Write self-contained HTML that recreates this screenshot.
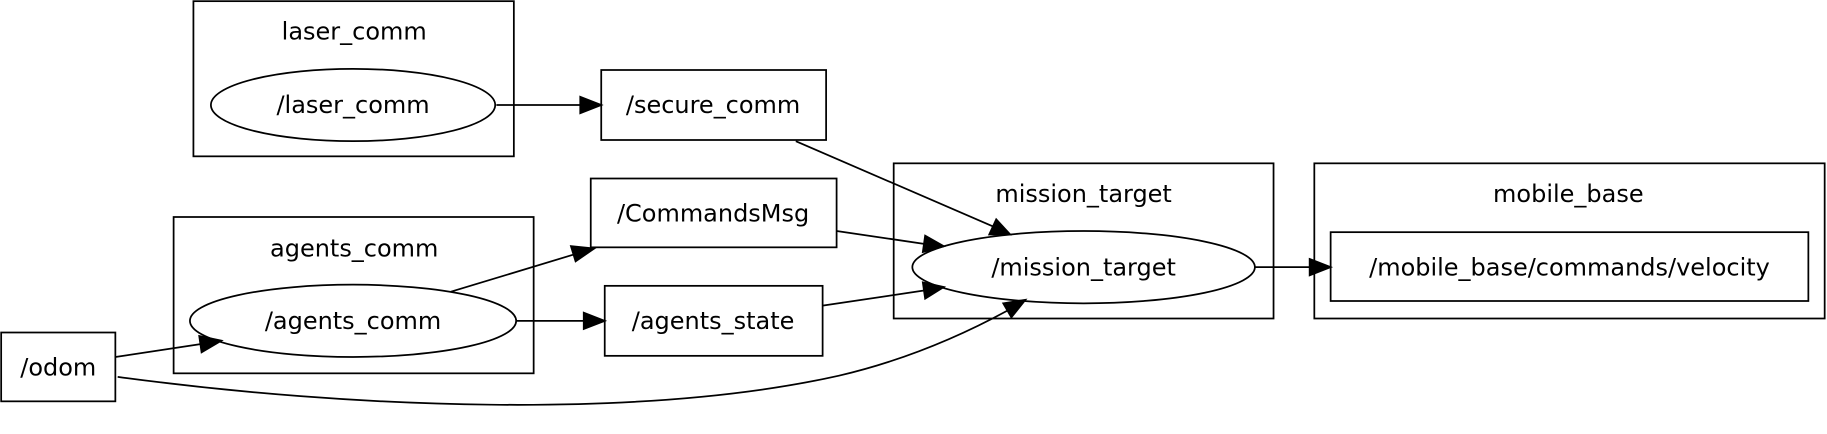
<!DOCTYPE html>
<html><head><meta charset="utf-8"><style>html,body{margin:0;padding:0;background:#fff}svg{display:block}</style></head>
<body>
<svg width="1827" height="434" viewBox="0 0 1568 372" preserveAspectRatio="none" xmlns="http://www.w3.org/2000/svg" font-family="DejaVu Sans, Liberation Sans, sans-serif" font-size="20.6" text-anchor="middle">
<style>.s{fill:none;stroke:#000;stroke-width:1.5}</style>
<g class="s">
<rect x="166" y="1" width="275" height="133"/>
<rect x="767" y="140" width="326" height="133"/>
<rect x="1128" y="140" width="438" height="133"/>
<rect x="149" y="186" width="309" height="134"/>
<rect x="516" y="60" width="193" height="60"/>
<rect x="507" y="153" width="211" height="59"/>
<rect x="519" y="245" width="187" height="60"/>
<rect x="1" y="285" width="98" height="59"/>
<rect x="1142" y="199" width="410" height="59"/>
<ellipse cx="303" cy="90" rx="122" ry="31"/>
<ellipse cx="930" cy="229" rx="147" ry="31"/>
<ellipse cx="303" cy="275" rx="140" ry="31"/>
</g>
<g fill="none" stroke="#000" stroke-width="1.5">
<path d="M426,90 L498,90"/><path d="M498,83 L516,90 L498,97 z" fill="#000"/>
<path d="M683,121 L852,194"/><path d="M849,201 L867,201 L855,188 z" fill="#000"/>
<path d="M718,198 L793,209"/><path d="M792,216 L810,211 L794,202 z" fill="#000"/>
<path d="M706,262 L793,249"/><path d="M792,242 L810,246 L794,256 z" fill="#000"/>
<path d="M443,275 L501,275"/><path d="M501,268 L519,275 L501,282 z" fill="#000"/>
<path d="M387,250 L493,218"/><path d="M490,211 L510,213 L494,224 z" fill="#000"/>
<path d="M1077,229 L1124,229"/><path d="M1124,222 L1142,229 L1124,236 z" fill="#000"/>
<path d="M99,306 L172,295"/><path d="M171,288 L190,292 L173,302 z" fill="#000"/>
<path d="M101,323 C300,350 550,360 720,322 C780,308 830,285 865,266"/><path d="M861,260 L880,257 L868,272 z" fill="#000"/>
</g>
<g fill="#000">
<text x="304" y="34">laser_comm</text>
<text x="303" y="97">/laser_comm</text>
<text x="612" y="97">/secure_comm</text>
<text x="930" y="173">mission_target</text>
<text x="930" y="236">/mission_target</text>
<text x="1346" y="173">mobile_base</text>
<text x="1347" y="236">/mobile_base/commands/velocity</text>
<text x="612" y="190">/CommandsMsg</text>
<text x="304" y="220">agents_comm</text>
<text x="303" y="282">/agents_comm</text>
<text x="612" y="282">/agents_state</text>
<text x="50" y="322">/odom</text>
</g>
</svg>
</body></html>
